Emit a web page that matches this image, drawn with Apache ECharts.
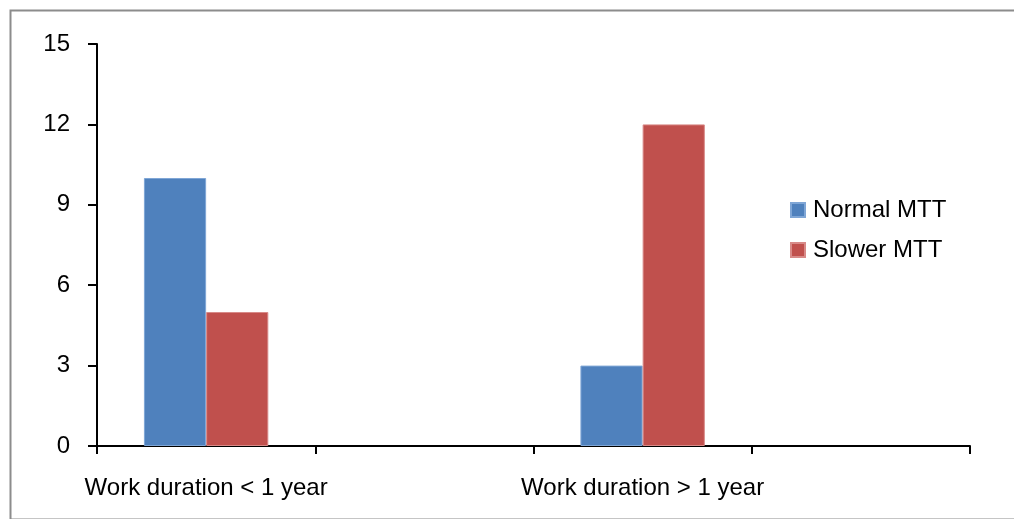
<!DOCTYPE html>
<html>
<head>
<meta charset="utf-8">
<script src="https://cdn.jsdelivr.net/npm/echarts@6/dist/echarts.min.js"></script>
<style>
  html, body { margin: 0; padding: 0; background: #fff; }
  #chart { width: 1014px; height: 519px; }
</style>
</head>
<body>
<div id="chart"></div>
<script>
// Category slots: the empty slots keep the spacing between the two groups
const categories = ['Work duration < 1 year', '', 'Work duration > 1 year', ''];
const normalMTT = [10, null, 3, null];
const slowerMTT = [5, null, 12, null];
const yTicks = { min: 0, max: 15, interval: 3 };

const FONT = '"Liberation Sans", Arial, sans-serif';
const FONT_SIZE = 24;

const chart = echarts.init(document.getElementById('chart'));
chart.setOption({
  animation: false,
  backgroundColor: '#ffffff',
  graphic: [{
    type: 'rect',
    left: 8, top: 8,
    shape: { width: 1030, height: 509 },
    style: { fill: 'none', stroke: '#8c8c8c', lineWidth: 2 },
    silent: true
  }],
  grid: { left: 97, right: 44, top: 44, bottom: 73, containLabel: false },
  legend: {
    orient: 'vertical',
    left: 790,
    top: 198,
    padding: 0,
    itemWidth: 14,
    itemHeight: 14,
    itemGap: 16,
    icon: 'rect',
    textStyle: { fontFamily: FONT, fontSize: FONT_SIZE, color: '#000', padding: [0, 0, 0, 3] },
    data: ['Normal MTT', 'Slower MTT']
  },
  xAxis: {
    type: 'category',
    data: categories,
    boundaryGap: true,
    axisLine: { lineStyle: { color: '#000', width: 2 } },
    axisTick: { show: true, interval: 0, length: 8, lineStyle: { color: '#000', width: 2 } },
    axisLabel: { interval: 0, margin: 30, fontFamily: FONT, fontSize: FONT_SIZE, color: '#000' },
    splitLine: { show: false }
  },
  yAxis: {
    type: 'value',
    min: yTicks.min,
    max: yTicks.max,
    interval: yTicks.interval,
    axisLine: { show: true, lineStyle: { color: '#000', width: 2 } },
    axisTick: { show: true, length: 9, lineStyle: { color: '#000', width: 2 } },
    axisLabel: { margin: 27, fontFamily: FONT, fontSize: FONT_SIZE, color: '#000' },
    splitLine: { show: false }
  },
  series: [
    {
      name: 'Normal MTT',
      type: 'bar',
      data: normalMTT,
      barGap: '0%',
      barCategoryGap: '43%',
      itemStyle: { color: '#4F81BD', borderColor: '#7FA6D6', borderWidth: 1 }
    },
    {
      name: 'Slower MTT',
      type: 'bar',
      data: slowerMTT,
      barGap: '0%',
      barCategoryGap: '43%',
      itemStyle: { color: '#C0504D', borderColor: '#D88A88', borderWidth: 1 }
    }
  ]
});
</script>
</body>
</html>
